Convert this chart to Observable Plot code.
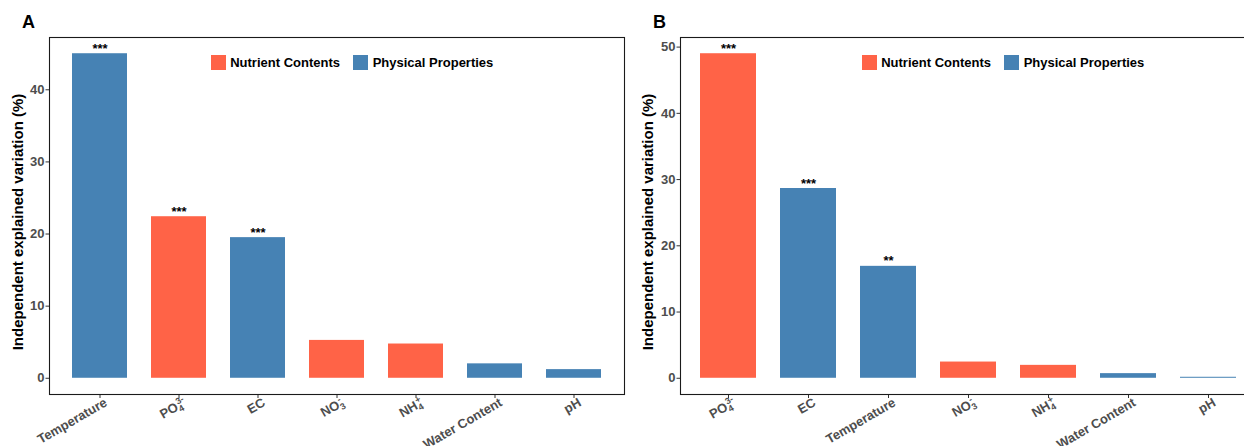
<!DOCTYPE html>
<html><head><meta charset="utf-8">
<script src="https://cdn.jsdelivr.net/npm/d3@7"></script>
<script src="https://cdn.jsdelivr.net/npm/@observablehq/plot@0.6"></script>
<style>
html,body{margin:0;padding:0;width:1244px;height:446px;overflow:hidden;background:#fff;font-family:"Liberation Sans",Arial,sans-serif;}
#root{position:relative;width:1244px;height:446px;overflow:hidden;}
.panel{position:absolute;top:0;width:640px;height:446px;}
.panel svg{max-width:none !important;}
.tag{position:absolute;font-weight:bold;font-size:18px;line-height:18px;color:#000;}
.ylab{position:absolute;transform:translate(-50%,-50%) rotate(-90deg);white-space:nowrap;font-weight:bold;font-size:15px;color:#000;}
.legend{position:absolute;display:flex;align-items:center;height:15px;font-weight:bold;font-size:13px;color:#000;white-space:nowrap;}
.legend .sw{width:14.7px;height:14.7px;margin-right:4.5px;}
.legend .it{display:flex;align-items:center;margin-right:13.5px;}
</style></head><body>
<div id="root"></div>
<script>
// ---- data ----
const groups = ["Nutrient Contents", "Physical Properties"];
const groupColors = ["#FF6347", "#4682B4"];

const categoriesA = ["Temperature", "PO4", "EC", "NO3", "NH4", "Water Content", "pH"];
const valuesA = [45.0, 22.4, 19.5, 5.25, 4.75, 2.0, 1.2];
const groupsA = ["Physical Properties", "Nutrient Contents", "Physical Properties", "Nutrient Contents", "Nutrient Contents", "Physical Properties", "Physical Properties"];
const signifA = ["***", "***", "***", "", "", "", ""];
const yTicksA = [0, 10, 20, 30, 40];

const categoriesB = ["PO4", "EC", "Temperature", "NO3", "NH4", "Water Content", "pH"];
const valuesB = [49.0, 28.65, 16.9, 2.45, 1.95, 0.7, 0.15];
const groupsB = ["Nutrient Contents", "Physical Properties", "Physical Properties", "Nutrient Contents", "Nutrient Contents", "Physical Properties", "Physical Properties"];
const signifB = ["***", "***", "**", "", "", "", ""];
const yTicksB = [0, 10, 20, 30, 40, 50];

const yLabel = "Independent explained variation (%)";
// chemical labels: base, subscript, superscript
const chemLabels = {PO4: ["PO", "4", "3-"], NO3: ["NO", "3", "-"], NH4: ["NH", "4", "+"]};

const root = document.getElementById("root");
const SVGNS = "http://www.w3.org/2000/svg";

function makePanel(cats, vals, grps, sig, ticks, width, ml, mr) {
  const data = cats.map((c, i) => ({cat: c, value: vals[i], group: grps[i], sig: sig[i]}));
  const max = d3.max(vals);
  const plot = Plot.plot({
    width, height: 446,
    marginLeft: ml, marginRight: mr, marginTop: 37, marginBottom: 52,
    style: {fontFamily: "'Liberation Sans', Arial, sans-serif", fontSize: "13px", background: "transparent", overflow: "visible", maxWidth: "none"},
    x: {domain: cats, paddingInner: 0.3, paddingOuter: 0.25, axis: null},
    y: {domain: [-0.05 * max, 1.05 * max], axis: null},
    color: {domain: groups, range: groupColors},
    marks: [
      Plot.barY(data, {x: "cat", y: "value", fill: "group"}),
      Plot.text(data.filter(d => d.sig), {x: "cat", y: "value", text: "sig", lineAnchor: "bottom", dy: -1, fontSize: 13, fontWeight: "bold", fill: "#000"}),
      Plot.axisY({ticks, tickSize: 3.5, tickPadding: 1.5, stroke: "#333", fill: "#4d4d4d", fontWeight: "bold", fontSize: 13, label: null}),
      Plot.axisX({tickRotate: -30, tickSize: 4, tickPadding: 2, stroke: "#333", fill: "#4d4d4d", fontWeight: "bold", fontSize: 13, label: null}),
      Plot.frame({stroke: "#1a1a1a", strokeWidth: 1.1})
    ]
  });
  // rewrite chemical tick labels with sub/superscripts, and nudge labels like ggplot hjust=1,vjust=1
  plot.querySelectorAll('g[aria-label="x-axis tick label"] text').forEach(t => {
    const tr = t.getAttribute("transform") || "";
    t.setAttribute("transform", "translate(6,1) " + tr);
    const key = t.textContent.trim();
    const c = chemLabels[key];
    if (!c) return;
    while (t.firstChild) t.removeChild(t.firstChild);
    const a = document.createElementNS(SVGNS, "tspan"); a.textContent = c[0]; t.appendChild(a);
    const b = document.createElementNS(SVGNS, "tspan"); b.textContent = c[1];
    b.setAttribute("font-size", "9"); b.setAttribute("dy", "3"); t.appendChild(b);
    const s = document.createElementNS(SVGNS, "tspan"); s.textContent = c[2];
    s.setAttribute("font-size", "9"); s.setAttribute("dx", "-4"); s.setAttribute("dy", "-8"); t.appendChild(s);
  });
  return plot;
}

function addPanel(left, tag, tagLeft, ylabX, legendLeft, cats, vals, grps, sig, ticks, width, ml, mr) {
  const div = document.createElement("div");
  div.className = "panel"; div.style.left = left + "px";
  div.appendChild(makePanel(cats, vals, grps, sig, ticks, width, ml, mr));
  root.appendChild(div);
  const t = document.createElement("div");
  t.className = "tag"; t.textContent = tag; t.style.left = tagLeft + "px"; t.style.top = "12.7px";
  root.appendChild(t);
  const yl = document.createElement("div");
  yl.className = "ylab"; yl.textContent = yLabel; yl.style.left = ylabX + "px"; yl.style.top = "222px";
  root.appendChild(yl);
  const lg = document.createElement("div");
  lg.className = "legend"; lg.style.left = legendLeft + "px"; lg.style.top = "55px";
  groups.forEach((g, i) => {
    const it = document.createElement("div"); it.className = "it";
    const sw = document.createElement("div"); sw.className = "sw"; sw.style.background = groupColors[i];
    const tx = document.createElement("span"); tx.textContent = g;
    it.appendChild(sw); it.appendChild(tx); lg.appendChild(it);
  });
  root.appendChild(lg);
}

addPanel(0, "A", 22, 17, 211, categoriesA, valuesA, groupsA, signifA, yTicksA, 640, 49, 16);
addPanel(640, "B", 653, 647, 862, categoriesB, valuesB, groupsB, signifB, yTicksB, 640, 40, 24);
</script>
</body></html>
